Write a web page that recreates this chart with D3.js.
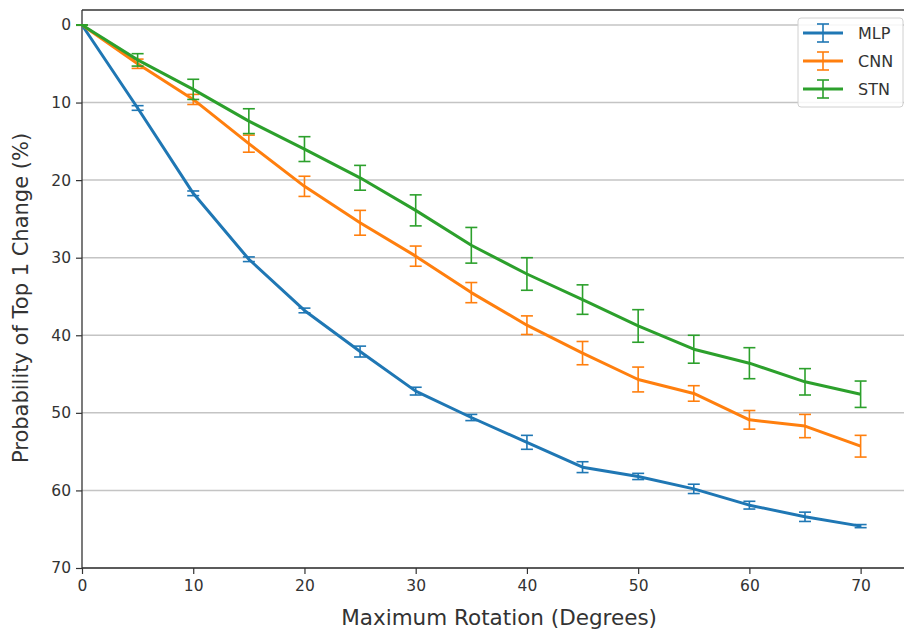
<!DOCTYPE html>
<html>
<head>
<meta charset="utf-8">
<script src="https://cdn.jsdelivr.net/npm/d3@7"></script>
<style>
  body { margin: 0; background: #fff; }
  text { font-family: "DejaVu Sans", sans-serif; }
</style>
</head>
<body>
<div id="wrapper"></div>
<script>
// rotation angles (degrees)
const angles = [0, 5, 10, 15, 20, 25, 30, 35, 40, 45, 50, 55, 60, 65, 70];

// mean probability of top-1 change (%) and error sizes
const mlpMean = [0, 10.7, 21.7, 30.2, 36.8, 42.1, 47.2, 50.6, 53.8, 57.0, 58.2, 59.8, 61.9, 63.4, 64.6];
const mlpErr  = [0, 0.3, 0.3, 0.3, 0.3, 0.7, 0.5, 0.4, 0.9, 0.7, 0.4, 0.6, 0.5, 0.6, 0.2];
const cnnMean = [0, 5.0, 9.6, 15.3, 20.8, 25.5, 29.8, 34.5, 38.7, 42.3, 45.7, 47.5, 50.9, 51.7, 54.3];
const cnnErr  = [0, 0.6, 0.65, 1.1, 1.3, 1.6, 1.3, 1.3, 1.2, 1.5, 1.6, 1.0, 1.2, 1.5, 1.4];
const stnMean = [0, 4.5, 8.3, 12.4, 16.0, 19.7, 23.9, 28.4, 32.1, 35.4, 38.8, 41.8, 43.6, 46.0, 47.6];
const stnErr  = [0, 0.8, 1.3, 1.6, 1.6, 1.6, 2.0, 2.3, 2.1, 1.9, 2.1, 1.8, 2.0, 1.7, 1.7];

const seriesNames = ["MLP", "CNN", "STN"];
const xTicks = [0, 10, 20, 30, 40, 50, 60, 70];
const yTicks = [0, 10, 20, 30, 40, 50, 60, 70];

const colors = {MLP: "#1f77b4", CNN: "#ff7f0e", STN: "#2ca02c"};
const series = [
    {name: "MLP", mean: mlpMean, err: mlpErr},
    {name: "CNN", mean: cnnMean, err: cnnErr},
    {name: "STN", mean: stnMean, err: stnErr}
];

const dimension = {
    width: 905,
    height: 630,
    margin: {top: 10, left: 82, bottom: 62, right: 1}
};
dimension.boundedWidth = dimension.width - dimension.margin.left - dimension.margin.right;
dimension.boundedHeight = dimension.height - dimension.margin.top - dimension.margin.bottom;

const svg = d3.select("#wrapper").append("svg")
    .attr("width", dimension.width)
    .attr("height", dimension.height);

const bounded = svg.append("g")
    .attr("transform", `translate(${dimension.margin.left},${dimension.margin.top})`);

const xScaler = d3.scaleLinear()
    .domain([0, 73.9])
    .range([0, dimension.boundedWidth]);

// inverted axis: 0 at the top
const yScaler = d3.scaleLinear()
    .domain([-1.93, 70])
    .range([0, dimension.boundedHeight]);

// horizontal grid
bounded.append("g")
    .selectAll("line")
    .data(yTicks)
    .join("line")
    .attr("x1", 0)
    .attr("x2", dimension.boundedWidth)
    .attr("y1", d => yScaler(d))
    .attr("y2", d => yScaler(d))
    .attr("stroke", "#c4c4c4")
    .attr("stroke-width", 1.5);

// axes
const yAxis = bounded.append("g")
    .call(d3.axisLeft(yScaler).tickValues(yTicks).tickSize(6).tickPadding(5));
const xAxis = bounded.append("g")
    .attr("transform", `translate(0,${dimension.boundedHeight})`)
    .call(d3.axisBottom(xScaler).tickValues(xTicks).tickSize(6).tickPadding(6));

[xAxis, yAxis].forEach(ax => {
    ax.select(".domain").remove();
    ax.selectAll("line").attr("stroke", "#333").attr("stroke-width", 1.2);
    ax.selectAll("text")
        .attr("fill", "#333")
        .style("font-family", "DejaVu Sans")
        .style("font-size", "15.5px");
});

// spines
bounded.append("line")
    .attr("x1", 0).attr("x2", 0)
    .attr("y1", 0).attr("y2", dimension.boundedHeight)
    .attr("stroke", "#333").attr("stroke-width", 1.3);
bounded.append("line")
    .attr("x1", 0).attr("x2", dimension.boundedWidth)
    .attr("y1", dimension.boundedHeight).attr("y2", dimension.boundedHeight)
    .attr("stroke", "#333").attr("stroke-width", 1.3);
bounded.append("line")
    .attr("x1", 0).attr("x2", dimension.boundedWidth)
    .attr("y1", 0).attr("y2", 0)
    .attr("stroke", "#333").attr("stroke-width", 1.3);

const lineGenerator = d3.line()
    .x((d, i) => xScaler(angles[i]))
    .y(d => yScaler(d));

const capHalf = 6;

series.forEach(s => {
    const g = bounded.append("g");
    const pts = angles.map((a, i) => ({a: a, m: s.mean[i], e: s.err[i]}));

    g.append("path")
        .attr("d", lineGenerator(s.mean))
        .attr("fill", "none")
        .attr("stroke", colors[s.name])
        .attr("stroke-width", 3)
        .attr("stroke-linejoin", "round");

    const bars = g.selectAll("g.err")
        .data(pts)
        .join("g")
        .attr("class", "err")
        .attr("stroke", colors[s.name])
        .attr("stroke-width", 1.6);

    bars.append("line")
        .attr("x1", d => xScaler(d.a)).attr("x2", d => xScaler(d.a))
        .attr("y1", d => yScaler(d.m - d.e)).attr("y2", d => yScaler(d.m + d.e));
    bars.append("line")
        .attr("x1", d => xScaler(d.a) - capHalf).attr("x2", d => xScaler(d.a) + capHalf)
        .attr("y1", d => yScaler(d.m - d.e)).attr("y2", d => yScaler(d.m - d.e));
    bars.append("line")
        .attr("x1", d => xScaler(d.a) - capHalf).attr("x2", d => xScaler(d.a) + capHalf)
        .attr("y1", d => yScaler(d.m + d.e)).attr("y2", d => yScaler(d.m + d.e));
});

// axis labels
svg.append("text")
    .attr("x", dimension.margin.left + xScaler(37.5))
    .attr("y", 625)
    .attr("text-anchor", "middle")
    .style("font-size", "21.5px")
    .attr("fill", "#333")
    .text("Maximum Rotation (Degrees)");

svg.append("text")
    .attr("transform", `translate(28,${dimension.margin.top + dimension.boundedHeight / 2 + 9}) rotate(-90)`)
    .attr("text-anchor", "middle")
    .style("font-size", "21px")
    .attr("fill", "#333")
    .text("Probability of Top 1 Change (%)");

// legend
const legend = svg.append("g").attr("transform", "translate(798,18)");
legend.append("rect")
    .attr("width", 105).attr("height", 89)
    .attr("rx", 3)
    .attr("fill", "#fff").attr("fill-opacity", 0.85)
    .attr("stroke", "#d0d0d0");

seriesNames.forEach((name, i) => {
    const y = 15 + i * 28;
    const item = legend.append("g").attr("stroke", colors[name]);
    item.append("line").attr("x1", 5).attr("x2", 45).attr("y1", y).attr("y2", y).attr("stroke-width", 3);
    item.append("line").attr("x1", 25).attr("x2", 25).attr("y1", y - 9).attr("y2", y + 9).attr("stroke-width", 1.6);
    item.append("line").attr("x1", 19).attr("x2", 31).attr("y1", y - 9).attr("y2", y - 9).attr("stroke-width", 1.6);
    item.append("line").attr("x1", 19).attr("x2", 31).attr("y1", y + 9).attr("y2", y + 9).attr("stroke-width", 1.6);
    legend.append("text")
        .attr("x", 60).attr("y", y + 6)
        .style("font-size", "16px")
        .attr("fill", "#333")
        .text(name);
});
</script>
</body>
</html>
